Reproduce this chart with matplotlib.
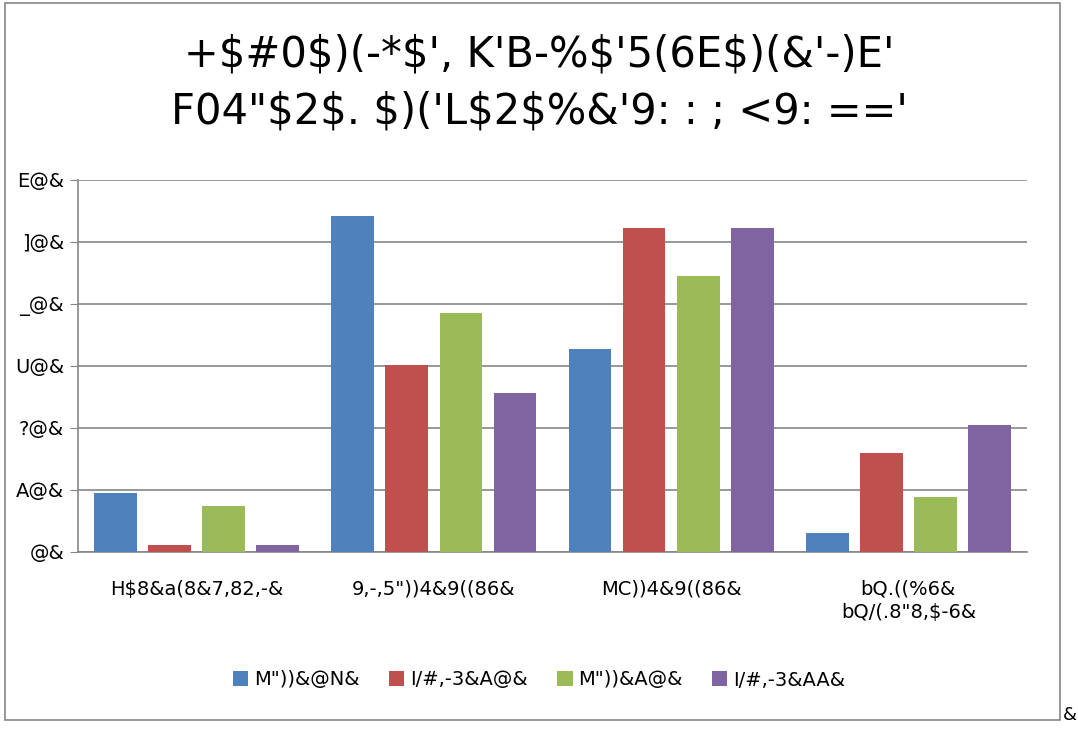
import matplotlib
matplotlib.use('Agg')
import matplotlib.pyplot as plt
import numpy as np
from matplotlib.patches import Rectangle

plt.rcParams['font.family'] = ['DejaVu Sans']

# 데이터
categories = ['H$8&a(8&7,82,-&', '9,-,5"))4&9((86&', 'MC))4&9((86&', 'bQ.((%6&\nbQ/(.8"8,$-6&']
series_names = ['M"))&@N&', 'I/#,-3&A@&', 'M"))&A@&', 'I/#,-3&AA&']
values = [
    [9.5, 54.2, 32.7, 3.1],
    [1.1, 30.2, 52.3, 16.0],
    [7.4, 38.5, 44.5, 8.9],
    [1.1, 25.6, 52.3, 20.5],
]
colors = ['#4F81BD', '#C0504D', '#9BBB59', '#8064A2']
ytick_vals = [0, 10, 20, 30, 40, 50, 60]
ytick_labels = ['@&', 'A@&', '?@&', 'U@&', '_@&', ']@&', 'E@&']
title = "+$#0$)(-*$', K'B-%$'5(6E$)(&'-)E'\nF04\"$2$. $)('L$2$%&'9: : ; <9: =='"

fig = plt.figure(figsize=(10.78, 7.29), dpi=100)
ax = fig.add_axes([78/1078, 1-552/729, 949/1078, 372/729])

x = np.arange(len(categories))
width = 0.18
step = 0.228
for i, (name, vals) in enumerate(zip(series_names, values)):
    ax.bar(x + (i - 1.5) * step, vals, width, color=colors[i], label=name, zorder=3)

ax.set_xlim(-0.5, len(categories) - 0.5)
ax.set_ylim(0, 60)
ax.set_yticks(ytick_vals)
ax.set_yticklabels(ytick_labels, fontsize=14)
ax.set_xticks(x)
ax.set_xticklabels(categories, fontsize=14, linespacing=1.3)
ax.yaxis.grid(True, color='#868686', linewidth=1.2, zorder=0)
ax.tick_params(axis='y', length=6, color='#868686', pad=4)
ax.tick_params(axis='x', length=0, pad=20)
for s in ['top', 'right']:
    ax.spines[s].set_visible(False)
ax.spines['left'].set_color('#868686')
ax.spines['bottom'].set_color('#868686')
ax.spines['left'].set_linewidth(1.2)
ax.spines['bottom'].set_linewidth(1.2)

fig.text(0.5, 1-83/729, title, ha='center', va='center', fontsize=30, linespacing=1.45)

fig.legend(loc='center', bbox_to_anchor=(0.5, 1-680/729), ncol=4, frameon=False, fontsize=14,
           handlelength=0.8, handleheight=0.8, handletextpad=0.3, columnspacing=1.5)

fig.patches.append(Rectangle((5/1078, 1-720/729), 1055/1078, 717/729, transform=fig.transFigure,
                             fill=False, edgecolor='#868686', linewidth=1.2))
fig.text(1070/1078, 1-715/729, '&', ha='center', va='center', fontsize=13)

fig.savefig('out.png', dpi=100)
